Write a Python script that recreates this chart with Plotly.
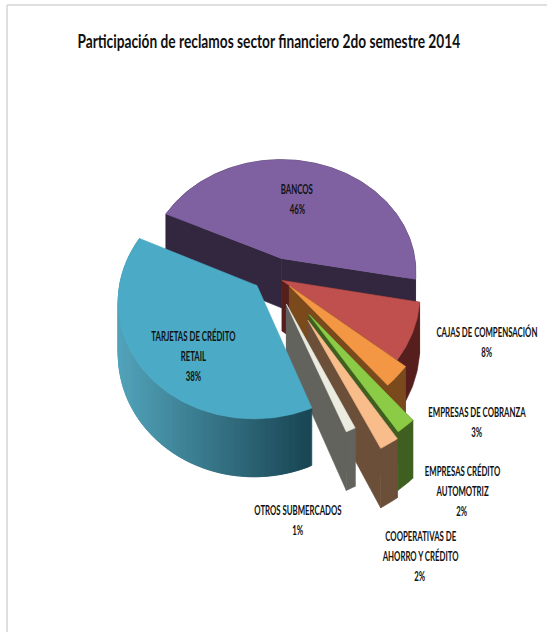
import math
import numpy as np
import plotly.graph_objects as go

# Share of complaints by sub-sector, in drawing order (clockwise)
categories = ["BANCOS", "CAJAS DE COMPENSACIÓN", "EMPRESAS DE COBRANZA", "EMPRESAS CRÉDITO AUTOMOTRIZ",
              "COOPERATIVAS DE AHORRO Y CRÉDITO", "OTROS SUBMERCADOS", "TARJETAS DE CRÉDITO RETAIL"]
shares = [46, 8, 3, 2, 2, 1, 38]
label_lines = [["BANCOS"], ["CAJAS DE COMPENSACIÓN"], ["EMPRESAS DE COBRANZA"],
               ["EMPRESAS CRÉDITO", "AUTOMOTRIZ"], ["COOPERATIVAS DE", "AHORRO Y CRÉDITO"],
               ["OTROS SUBMERCADOS"], ["TARJETAS DE CRÉDITO", "RETAIL"]]
title_text = "Participación de reclamos sector financiero 2do semestre 2014"

# Styling
top_colors = ["#7f61a1", "#bf504d", "#f39744", "#8ccb45", "#f9bd8c", "#ecebe0", "#4babc6"]
side_colors = ["#33273f", "#561f1e", "#7b4a1c", "#3f5f20", "#6b4f39", "#63635e", None]
# How far each wedge is pulled out of the pie, in units of the radius (across, towards the viewer)
pull = [(0.025, -0.095), (0.03, 0.10), (0.083, 0.147), (0.22, 0.385), (0.21, 0.43), (0.06, 0.30), (-0.153, 0.144)]
label_pos = [(297, 189), (487, 332), (477, 412), (462, 471), (420, 536), (298, 510), (193, 336)]
LINE_STEP = 20

# Projection of the pie plane: perspective foreshortening towards the back
CX, CY = 278, 269
A, B, K, DEPTH = 135, 113, 0.12, 50
START = -65.0


def project(u, v, z=0.0):
    w = 1 - K * v
    return CX + A * u / w, CY + (B * v + DEPTH * z) / w


def on_disc(deg, offset):
    t = math.radians(deg)
    return math.sin(t) + offset[0], -math.cos(t) + offset[1]


def polygon(points, color, name):
    xs = [p[0] for p in points] + [points[0][0]]
    ys = [p[1] for p in points] + [points[0][1]]
    return go.Scatter(x=xs, y=ys, mode="lines", fill="toself", fillcolor=color, name=name,
                      line=dict(width=0.6, color=color), hoverinfo="skip", showlegend=False)


def mix(a, b, t):
    return "rgb(%d,%d,%d)" % tuple(round(a[i] + (b[i] - a[i]) * t) for i in range(3))


fig = go.Figure()
angle = START
for name, val, top, side, off in zip(categories, shares, top_colors, side_colors, pull):
    a0, a1 = angle, angle + val * 3.6
    angle = a1
    apex = off
    arc = [on_disc(d, off) for d in np.linspace(a0, a1, max(int(a1 - a0), 6) + 1)]

    if side:
        # Cut faces on each side of the wedge, then the rim
        for edge in (arc[0], arc[-1]):
            fig.add_trace(polygon([project(*apex), project(*edge), project(*edge, 1), project(*apex, 1)], side, name))
        fig.add_trace(polygon([project(*p) for p in arc] + [project(*p, 1) for p in arc[::-1]], side, name))
    else:
        # Largest front wedge: rim shaded from light on the left to dark on the right
        for i in range(len(arc) - 1):
            pts = arc[i:i + 3]
            t = min(max((project(*pts[0])[0] - 116) / 190, 0), 1)
            colour = mix((84, 165, 188), (27, 72, 86), t)
            quad = [project(*p) for p in pts] + [project(*p, 1) for p in pts[::-1]]
            fig.add_trace(polygon(quad, colour, name))

    fig.add_trace(polygon([project(*apex)] + [project(*p) for p in arc], top, name))

# Category labels with their percentage, one annotation per line
label_font = dict(family="Lato", size=12.5, weight=700, color="#111111")
for lines, val, (lx, ly) in zip(label_lines, shares, label_pos):
    for i, line in enumerate(lines + [f"{val}%"]):
        fig.add_annotation(x=lx, y=ly + i * LINE_STEP, xref="x", yref="y", showarrow=False,
                           text=line, font=label_font)

fig.add_annotation(x=269, y=40, xref="x", yref="y", showarrow=False, text=title_text,
                   font=dict(family="Lato", size=19.5, weight=700, color="#111111"))

# Thin frame around the chart area
fig.add_shape(type="line", x0=7, x1=7, y0=5, y1=632, line=dict(color="#d4d4d4", width=1.5))
fig.add_shape(type="line", x0=7, x1=547, y0=5, y1=5, line=dict(color="#d4d4d4", width=1.5))

fig.update_layout(width=547, height=632, margin=dict(l=0, r=0, t=0, b=0),
                  paper_bgcolor="white", plot_bgcolor="white", showlegend=False,
                  xaxis=dict(range=[0, 547], visible=False, fixedrange=True),
                  yaxis=dict(range=[632, 0], visible=False, fixedrange=True))

# Narrow the lettering horizontally, since no condensed family is available
condense = """
document.querySelectorAll('.annotation-text').forEach(function (t) {
  var b = t.getBBox(), cx = b.x + b.width / 2;
  var s = b.width > 300 ? 383 / b.width : 0.625;
  t.setAttribute('transform', 'translate(' + cx + ',0) scale(' + s + ',1) translate(' + (-cx) + ',0)');
});
"""
fig.write_html("out.html", config={"displayModeBar": False}, post_script=condense)
